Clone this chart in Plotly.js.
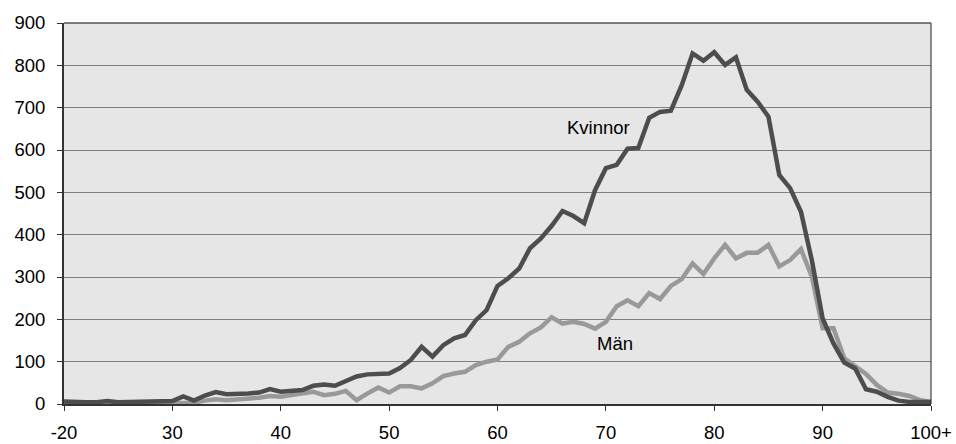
<!DOCTYPE html>
<html>
<head>
<meta charset="utf-8">
<script src="https://cdn.plot.ly/plotly-3.0.1.min.js"></script>
<style>html,body{margin:0;padding:0;background:#fff;}#chart{width:956px;height:444px;}</style>
</head>
<body>
<div id="chart"></div>
<script>
var ages = [];
for (var a = 20; a <= 100; a++) ages.push(a);

var kvinnor = [6,4,4,4,7,4,5,5,6,6,
  7,18,8,20,28,23,23,25,27,35,
  29,31,33,43,46,43,55,65,70,70,
  72,85,104,135,112,139,155,163,198,222,
  279,297,320,368,391,421,456,444,427,505,
  557,565,603,605,676,690,693,753,828,811,
  831,801,819,742,714,679,541,510,454,340,
  202,143,98,84,35,29,17,8,5,5,
  5];

var man = [1,0,1,0,1,1,1,1,1,1,
  1,2,3,8,11,9,11,12,15,19,
  17,21,24,29,21,24,31,9,25,39,
  27,42,42,37,49,66,72,76,92,100,
  105,135,147,167,181,205,190,194,189,178,
  194,231,245,231,262,248,279,295,332,307,
  344,376,344,357,357,376,325,340,366,301,
  179,179,108,88,71,45,27,24,19,9,
  5];

var tickVals = [20,30,40,50,60,70,80,90,100];
var tickText = ["-20","30","40","50","60","70","80","90","100+"];
var yTicks = [0,100,200,300,400,500,600,700,800,900];
var seriesNames = ["Män","Kvinnor"];

var font = {family: "Liberation Sans, Arial, sans-serif", size: 18.5, color: "#000"};

var data = [
  {x: ages, y: man, type: "scatter", mode: "lines", name: seriesNames[0],
   line: {color: "#999999", width: 4.5}, hoverinfo: "skip"},
  {x: ages, y: kvinnor, type: "scatter", mode: "lines", name: seriesNames[1],
   line: {color: "#4d4d4d", width: 4.5}, hoverinfo: "skip"}
];

var layout = {
  width: 956, height: 444,
  margin: {l: 64, r: 25, t: 23, b: 40},
  paper_bgcolor: "#ffffff",
  plot_bgcolor: "#e6e6e6",
  showlegend: false,
  font: font,
  xaxis: {
    range: [20, 100], tickmode: "array", tickvals: tickVals, ticktext: tickText,
    ticks: "outside", ticklen: 5, tickcolor: "#333", tickwidth: 1,
    showgrid: false, zeroline: false,
    showline: true, linecolor: "#333", linewidth: 2,
    tickfont: font, ticklabelstandoff: 6
  },
  yaxis: {
    range: [0, 900], tickmode: "array", tickvals: yTicks,
    ticks: "outside", ticklen: 5, tickcolor: "#333", tickwidth: 1,
    showgrid: true, gridcolor: "#808080", gridwidth: 1, zeroline: false,
    showline: true, linecolor: "#333", linewidth: 2,
    tickfont: font, ticklabelstandoff: 8
  },
  shapes: [
    {type: "line", xref: "paper", yref: "paper", x0: 1, x1: 1, y0: 0, y1: 1,
     line: {color: "#222", width: 1}},
    {type: "line", xref: "paper", yref: "paper", x0: 0, x1: 1, y0: 1, y1: 1,
     line: {color: "#555", width: 1.5}}
  ],
  annotations: [
    {x: 69.35, y: 652, xref: "x", yref: "y", text: seriesNames[1], showarrow: false, font: font},
    {x: 70.8, y: 142, xref: "x", yref: "y", text: seriesNames[0], showarrow: false, font: font}
  ]
};

Plotly.newPlot("chart", data, layout, {staticPlot: true, displayModeBar: false});
</script>
</body>
</html>
